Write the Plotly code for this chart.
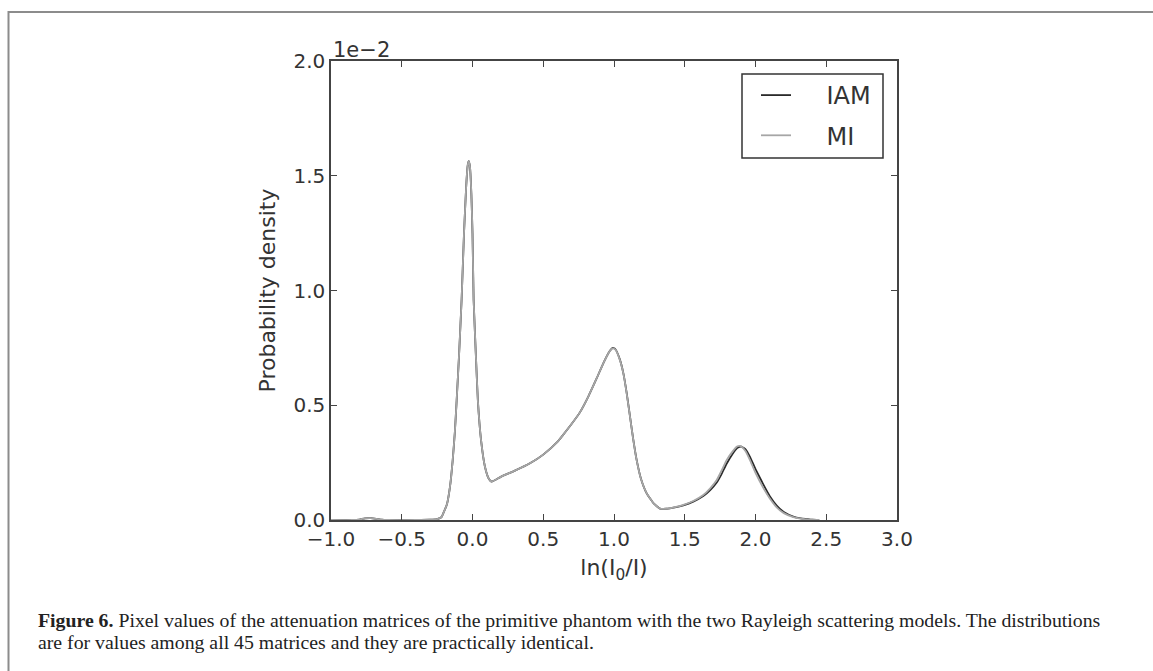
import plotly.graph_objects as go

# ---- data (probability density shown in units of 1e-2) ----
x_vals = [-1.00, -0.85, -0.80, -0.76, -0.72, -0.68, -0.64, -0.60, -0.40, -0.30,
          -0.25, -0.22, -0.206, -0.18, -0.159, -0.14, -0.125, -0.112, -0.095, -0.077,
          -0.060, -0.045, -0.035, -0.027, -0.018, -0.008, 0.000, 0.008, 0.025, 0.038,
          0.060, 0.088, 0.115, 0.136, 0.20, 0.30, 0.406, 0.50, 0.60, 0.642,
          0.70, 0.76, 0.82, 0.878, 0.93, 0.97, 0.991, 1.01, 1.04, 1.066,
          1.09, 1.113, 1.135, 1.16, 1.19, 1.231, 1.28, 1.325, 1.37, 1.43,
          1.49, 1.56, 1.631, 1.68, 1.726, 1.76, 1.796, 1.84, 1.87, 1.886,
          1.90, 1.93, 1.961, 2.00, 2.055, 2.10, 2.15, 2.20, 2.267, 2.32,
          2.36, 2.40, 2.45]

mi_y = [0.000, 0.000, 0.002, 0.007, 0.008, 0.005, 0.001, 0.000, 0.000, 0.001,
        0.004, 0.012, 0.030, 0.070, 0.145, 0.260, 0.380, 0.520, 0.720, 0.960,
        1.250, 1.450, 1.540, 1.565, 1.540, 1.420, 1.250, 0.960, 0.700, 0.520,
        0.350, 0.232, 0.180, 0.167, 0.188, 0.215, 0.247, 0.285, 0.340, 0.372,
        0.418, 0.470, 0.540, 0.618, 0.690, 0.736, 0.748, 0.742, 0.700, 0.639,
        0.550, 0.450, 0.355, 0.261, 0.180, 0.116, 0.072, 0.050, 0.049, 0.056,
        0.066, 0.083, 0.109, 0.138, 0.174, 0.215, 0.261, 0.300, 0.320, 0.323,
        0.320, 0.300, 0.261, 0.205, 0.140, 0.095, 0.055, 0.030, 0.013, 0.006,
        0.003, 0.001, 0.000]

iam_y = [0.000, 0.000, 0.002, 0.007, 0.008, 0.005, 0.001, 0.000, 0.000, 0.001,
         0.004, 0.012, 0.030, 0.070, 0.145, 0.260, 0.380, 0.520, 0.720, 0.960,
         1.250, 1.450, 1.540, 1.565, 1.540, 1.420, 1.250, 0.960, 0.700, 0.520,
         0.350, 0.232, 0.180, 0.167, 0.188, 0.215, 0.247, 0.285, 0.340, 0.372,
         0.418, 0.470, 0.540, 0.618, 0.690, 0.736, 0.750, 0.744, 0.702, 0.640,
         0.552, 0.452, 0.356, 0.262, 0.181, 0.116, 0.072, 0.050, 0.049, 0.055,
         0.064, 0.080, 0.104, 0.130, 0.163, 0.200, 0.245, 0.290, 0.314, 0.319,
         0.320, 0.308, 0.275, 0.222, 0.155, 0.105, 0.063, 0.035, 0.015, 0.007,
         0.004, 0.001, 0.000]

x_ticks = [-1.0, -0.5, 0.0, 0.5, 1.0, 1.5, 2.0, 2.5, 3.0]
y_ticks = [0.0, 0.5, 1.0, 1.5, 2.0]

W, H = 1153, 671
L, R, T, B = 331, 256, 61, 151
PW, PH = W - L - R, H - T - B

def px(xp):
    return (xp - L) / PW

def py(yp):
    return (H - B - yp) / PH

NB = "\u00a0" * 4
fig = go.Figure()
fig.add_trace(go.Scatter(x=x_vals, y=iam_y, mode="lines", name=NB + "IAM", legendgroup="a",
                         line=dict(color="#2a2a2a", width=1.8, shape="spline", smoothing=0.4)))
fig.add_trace(go.Scatter(x=x_vals, y=mi_y, mode="lines", name=NB + "MI", legendgroup="b",
                         line=dict(color="#a6a6a6", width=1.8, shape="spline", smoothing=0.4)))

axis_common = dict(
    showgrid=False, zeroline=False, showline=True, linecolor="#444444", linewidth=1.5,
    mirror="ticks", ticks="inside", ticklen=6, tickwidth=1.2, tickcolor="#444444",
    tickfont=dict(family="DejaVu Sans", size=20, color="#333333"),
)

fig.update_layout(
    width=W, height=H,
    margin=dict(l=L, r=R, t=T, b=B),
    paper_bgcolor="white", plot_bgcolor="white",
    xaxis=dict(range=[-1, 3], tickvals=x_ticks, tickformat=".1f",
               title=dict(text="ln(I<sub>0</sub>/I)", standoff=10,
                          font=dict(family="DejaVu Sans", size=22, color="#333333")),
               **axis_common),
    yaxis=dict(range=[0, 2], tickvals=y_ticks, tickformat=".1f",
               title=dict(text="Probability density", standoff=12,
                          font=dict(family="DejaVu Sans", size=22, color="#333333")),
               **axis_common),
    legend=dict(x=px(756), y=py(73), xanchor="left", yanchor="top",
                bgcolor="rgba(0,0,0,0)", borderwidth=0, tracegroupgap=6,
                font=dict(family="DejaVu Sans", size=24, color="#333333")),
    showlegend=True,
)

# legend frame
fig.add_shape(type="rect", xref="paper", yref="paper",
              x0=px(742), x1=px(883), y0=py(158), y1=py(74),
              line=dict(color="#333333", width=1.5), fillcolor="white", layer="below")

fig.add_annotation(text="1e\u22122", xref="paper", yref="paper", x=px(331), y=py(50),
                   xanchor="left", yanchor="middle", showarrow=False,
                   font=dict(family="DejaVu Sans", size=21, color="#333333"))

caption_lines = [
    "<b>Figure 6.</b> Pixel values of the attenuation matrices of the primitive phantom "
    "with the two Rayleigh scattering models. The distributions",
    "are for values among all 45 matrices and they are practically identical.",
]
for i, line in enumerate(caption_lines):
    fig.add_annotation(text=line, xref="paper", yref="paper", x=px(36), y=py(620 + 22 * i),
                       xanchor="left", yanchor="middle", align="left", showarrow=False,
                       font=dict(family="Liberation Serif", size=19.8, color="#222222"))

# outer frame (left and top edges visible)
fig.add_shape(type="rect", xref="paper", yref="paper",
              x0=px(8.5), x1=px(1170), y0=py(12), y1=py(690),
              line=dict(color="#8c8c8c", width=2), fillcolor="rgba(0,0,0,0)", layer="below")

fig.write_html("out.html")
